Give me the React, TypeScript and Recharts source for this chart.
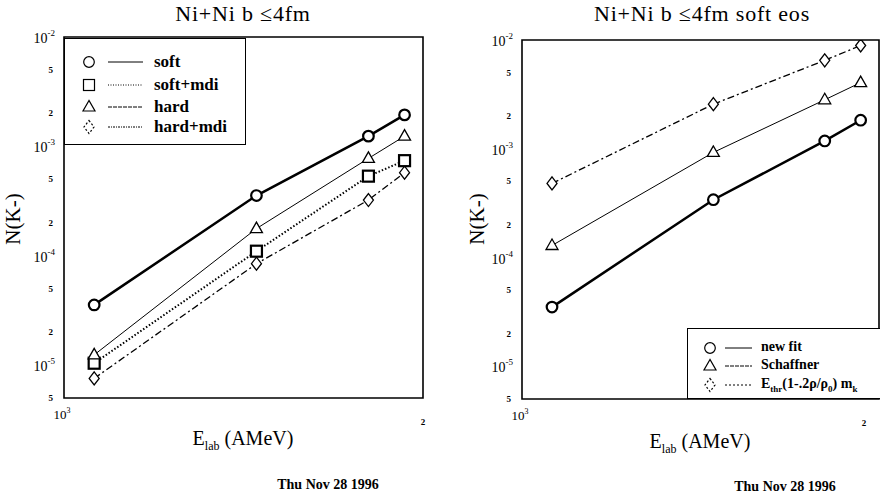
import React from "react";
import { LineChart, Line, XAxis, YAxis, ReferenceArea } from "recharts";

// beam energies (AMeV)
const energies = [1060, 1450, 1800, 1930];

// left panel: Ni+Ni b<=4fm
const soft = [3.55e-5, 3.55e-4, 1.24e-3, 1.94e-3];
const softMdi = [1.04e-5, 1.1e-4, 5.34e-4, 7.4e-4];
const hard = [1.24e-5, 1.77e-4, 7.76e-4, 1.24e-3];
const hardMdi = [7.55e-6, 8.45e-5, 3.23e-4, 5.74e-4];

// right panel: soft eos
const newFit = [3.5e-5, 3.4e-4, 1.18e-3, 1.83e-3];
const schaffner = [1.29e-4, 9.25e-4, 2.82e-3, 4.06e-3];
const ethr = [4.8e-4, 2.57e-3, 6.5e-3, 8.9e-3];

const yTicks = [5e-6, 1e-5, 2e-5, 5e-5, 1e-4, 2e-4, 5e-4, 1e-3, 2e-3, 5e-3, 1e-2];
const xTicks = [1000, 2000];

const leftData = energies.map((e, i) => ({
  e,
  soft: soft[i],
  softMdi: softMdi[i],
  hard: hard[i],
  hardMdi: hardMdi[i],
}));

const rightData = energies.map((e, i) => ({
  e,
  newFit: newFit[i],
  schaffner: schaffner[i],
  ethr: ethr[i],
}));

const SERIF = "'Liberation Serif', 'DejaVu Serif', serif";

function shape(kind: string, cx: number, cy: number, sw: number, key?: any, dash?: string) {
  const common = { fill: "#fff", stroke: "#000", strokeWidth: sw, strokeDasharray: dash };
  if (kind === "circle") return <circle key={key} cx={cx} cy={cy} r={5.3} {...common} />;
  if (kind === "square") return <rect key={key} x={cx - 5.5} y={cy - 5.5} width={11} height={11} {...common} />;
  if (kind === "triangle")
    return <polygon key={key} points={`${cx},${cy - 6.5} ${cx - 6},${cy + 4} ${cx + 6},${cy + 4}`} {...common} />;
  return <polygon key={key} points={`${cx},${cy - 6.5} ${cx + 5},${cy} ${cx},${cy + 6.5} ${cx - 5},${cy}`} {...common} />;
}

const makeDot = (kind: string, sw: number) => (p: any) => {
  if (p.cx == null || p.cy == null) return <g key={p.index} />;
  return shape(kind, p.cx, p.cy, sw, p.index);
};

function makeYTick(decadeEnd: number, minorEnd: number) {
  return (p: any) => {
    const v = p.payload.value;
    const exp = Math.floor(Math.log10(v) + 1e-9);
    const mant = Math.round(v / Math.pow(10, exp));
    if (mant === 1) {
      return (
        <text x={p.x - decadeEnd} y={p.y + 6} textAnchor="end" fontFamily={SERIF} fontSize={14} fill="#000">
          10<tspan dy={-7} fontSize={9}>{exp}</tspan>
        </text>
      );
    }
    return (
      <text x={p.x - minorEnd} y={p.y + 3} textAnchor="end" fontFamily={SERIF} fontSize={9} fontWeight="bold" fill="#000">
        {mant}
      </text>
    );
  };
}

const XTick = (p: any) => {
  const v = p.payload.value;
  if (v === 1000) {
    return (
      <text x={p.x - 2} y={p.y + 19} textAnchor="middle" fontFamily={SERIF} fontSize={13} fill="#000">
        10<tspan dy={-6} fontSize={8}>3</tspan>
      </text>
    );
  }
  return (
    <text x={p.x} y={p.y + 25} textAnchor="middle" fontFamily={SERIF} fontSize={9} fontWeight="bold" fill="#000">
      2
    </text>
  );
};

const abs = (left: number, top: number, extra: React.CSSProperties = {}): React.CSSProperties => ({
  position: "absolute",
  left,
  top,
  fontFamily: SERIF,
  color: "#000",
  whiteSpace: "nowrap",
  ...extra,
});

function Centered({ cx, cy, size, children, bold, w = 300 }: any) {
  return (
    <div
      style={abs(cx - w / 2, cy - size / 2, {
        width: w,
        textAlign: "center",
        fontSize: size,
        lineHeight: `${size}px`,
        fontWeight: bold ? "bold" : "normal",
      })}
    >
      {children}
    </div>
  );
}

function LegendRow({ y, sx, lx1, lx2, tx, kind, dash, label, size, sw, symDash }: any) {
  return (
    <>
      <svg style={abs(0, y - 8)} width={lx2 + 4} height={16}>
        {shape(kind, sx, 8, sw, undefined, symDash)}
        <line x1={lx1} x2={lx2} y1={8} y2={8} stroke="#000" strokeWidth={1} strokeDasharray={dash} />
      </svg>
      <div style={abs(tx, y - size / 2 - 1, { fontSize: size, lineHeight: `${size}px`, fontWeight: "bold" })}>{label}</div>
    </>
  );
}

function YLabel({ cx, cy }: { cx: number; cy: number }) {
  return (
    <div
      style={abs(cx - 40, cy - 11, {
        width: 80,
        textAlign: "center",
        fontSize: 21,
        lineHeight: "22px",
        transform: "rotate(-90deg)",
      })}
    >
      N(K-)
    </div>
  );
}

export default function App() {
  return (
    <div style={{ position: "absolute", left: 0, top: 0, width: 880, height: 497, background: "#fff", overflow: "hidden" }}>
      {/* left panel */}
      <div style={{ position: "absolute", left: 0, top: 0 }}>
        <LineChart width={440} height={497} data={leftData} margin={{ top: 37, right: 17, bottom: 69, left: 0 }}>
          <XAxis
            dataKey="e"
            type="number"
            scale="log"
            domain={[1000, 2000]}
            ticks={xTicks}
            allowDataOverflow
            height={30}
            axisLine={false}
            tickLine={false}
            tickSize={0}
            tick={XTick}
          />
          <YAxis
            type="number"
            scale="log"
            domain={[5e-6, 1e-2]}
            ticks={yTicks}
            allowDataOverflow
            width={64}
            axisLine={false}
            tickLine={false}
            tickSize={0}
            tick={makeYTick(7, 9)}
          />
          <ReferenceArea x1={1000} x2={2000} y1={5e-6} y2={1e-2} fill="none" stroke="#000" strokeWidth={1.6} />
          <Line dataKey="hardMdi" stroke="#000" strokeWidth={1.3} strokeDasharray="7 3 2 3" dot={makeDot("diamond", 1.3)} isAnimationActive={false} />
          <Line dataKey="softMdi" stroke="#000" strokeWidth={2} strokeDasharray="1.5 2" dot={makeDot("square", 2.2)} isAnimationActive={false} />
          <Line dataKey="hard" stroke="#000" strokeWidth={1} dot={makeDot("triangle", 1.3)} isAnimationActive={false} />
          <Line dataKey="soft" stroke="#000" strokeWidth={2.5} dot={makeDot("circle", 2.2)} isAnimationActive={false} />
        </LineChart>
      </div>

      {/* right panel */}
      <div style={{ position: "absolute", left: 440, top: 0 }}>
        <LineChart width={440} height={497} data={rightData} margin={{ top: 40, right: 1, bottom: 68, left: 0 }}>
          <XAxis
            dataKey="e"
            type="number"
            scale="log"
            domain={[1000, 2000]}
            ticks={xTicks}
            allowDataOverflow
            height={30}
            axisLine={false}
            tickLine={false}
            tickSize={0}
            tick={XTick}
          />
          <YAxis
            type="number"
            scale="log"
            domain={[5e-6, 1e-2]}
            ticks={yTicks}
            allowDataOverflow
            width={82}
            axisLine={false}
            tickLine={false}
            tickSize={0}
            tick={makeYTick(7, 9)}
          />
          <ReferenceArea x1={1000} x2={2000} y1={5e-6} y2={1e-2} fill="none" stroke="#000" strokeWidth={1.6} />
          <Line dataKey="ethr" stroke="#000" strokeWidth={1.3} strokeDasharray="7 3 2 3" dot={makeDot("diamond", 1.3)} isAnimationActive={false} />
          <Line dataKey="schaffner" stroke="#000" strokeWidth={1} dot={makeDot("triangle", 1.3)} isAnimationActive={false} />
          <Line dataKey="newFit" stroke="#000" strokeWidth={2.5} dot={makeDot("circle", 2.2)} isAnimationActive={false} />
        </LineChart>
      </div>

      {/* left legend */}
      <div style={abs(64, 38, { width: 182, height: 107, border: "1.5px solid #000", boxSizing: "border-box", background: "#fff" })}>
        <div style={{ position: "relative" }}>
          <LegendRow y={23} sx={24} lx1={43} lx2={78} tx={89} kind="circle" sw={1.2} label="soft" size={17} />
          <LegendRow y={46} sx={24} lx1={43} lx2={78} tx={89} kind="square" sw={1.2} dash="1 1.5" label="soft+mdi" size={17} />
          <LegendRow y={68} sx={24} lx1={43} lx2={78} tx={89} kind="triangle" sw={1.2} dash="4 1" label="hard" size={17} />
          <LegendRow y={88} sx={24} lx1={43} lx2={78} tx={89} kind="diamond" sw={1.2} dash="2 1 1 1" symDash="2 2" label="hard+mdi" size={17} />
        </div>
      </div>

      {/* right legend */}
      <div style={abs(687, 328, { width: 200, height: 71, border: "1.5px solid #000", boxSizing: "border-box", background: "#fff" })}>
        <div style={{ position: "relative" }}>
          <LegendRow y={19} sx={22} lx1={37} lx2={64} tx={73} kind="circle" sw={1.2} label="new fit" size={14} />
          <LegendRow y={37} sx={22} lx1={37} lx2={64} tx={73} kind="triangle" sw={1.2} dash="4 1" label="Schaffner" size={14} />
          <LegendRow
            y={56}
            sx={22}
            lx1={37}
            lx2={64}
            tx={73}
            kind="diamond"
            sw={1.2}
            dash="2 2"
            symDash="2 2"
            size={14}
            label={
              <span>
                E<sub style={{ fontSize: 9 }}>thr</sub>(1-.2ρ/ρ<sub style={{ fontSize: 9 }}>0</sub>) m<sub style={{ fontSize: 9 }}>k</sub>
              </span>
            }
          />
        </div>
      </div>

      {/* titles */}
      <Centered cx={243} cy={14} size={22}>
        <span style={{ letterSpacing: 0.8 }}>Ni+Ni b ≤4fm</span>
      </Centered>
      <Centered cx={702} cy={14} size={22}>
        <span style={{ letterSpacing: 0.8 }}>Ni+Ni b ≤4fm soft eos</span>
      </Centered>

      {/* axis labels */}
      <YLabel cx={13} cy={219} />
      <YLabel cx={477} cy={219} />
      <Centered cx={243} cy={438} size={20}>
        E<sub style={{ fontSize: 12 }}>lab</sub> (AMeV)
      </Centered>
      <Centered cx={700} cy={441} size={20}>
        E<sub style={{ fontSize: 12 }}>lab</sub> (AMeV)
      </Centered>

      {/* date stamps */}
      <Centered cx={328} cy={485} size={14} bold>
        Thu Nov 28 1996
      </Centered>
      <Centered cx={785} cy={487} size={14} bold>
        Thu Nov 28 1996
      </Centered>
    </div>
  );
}
